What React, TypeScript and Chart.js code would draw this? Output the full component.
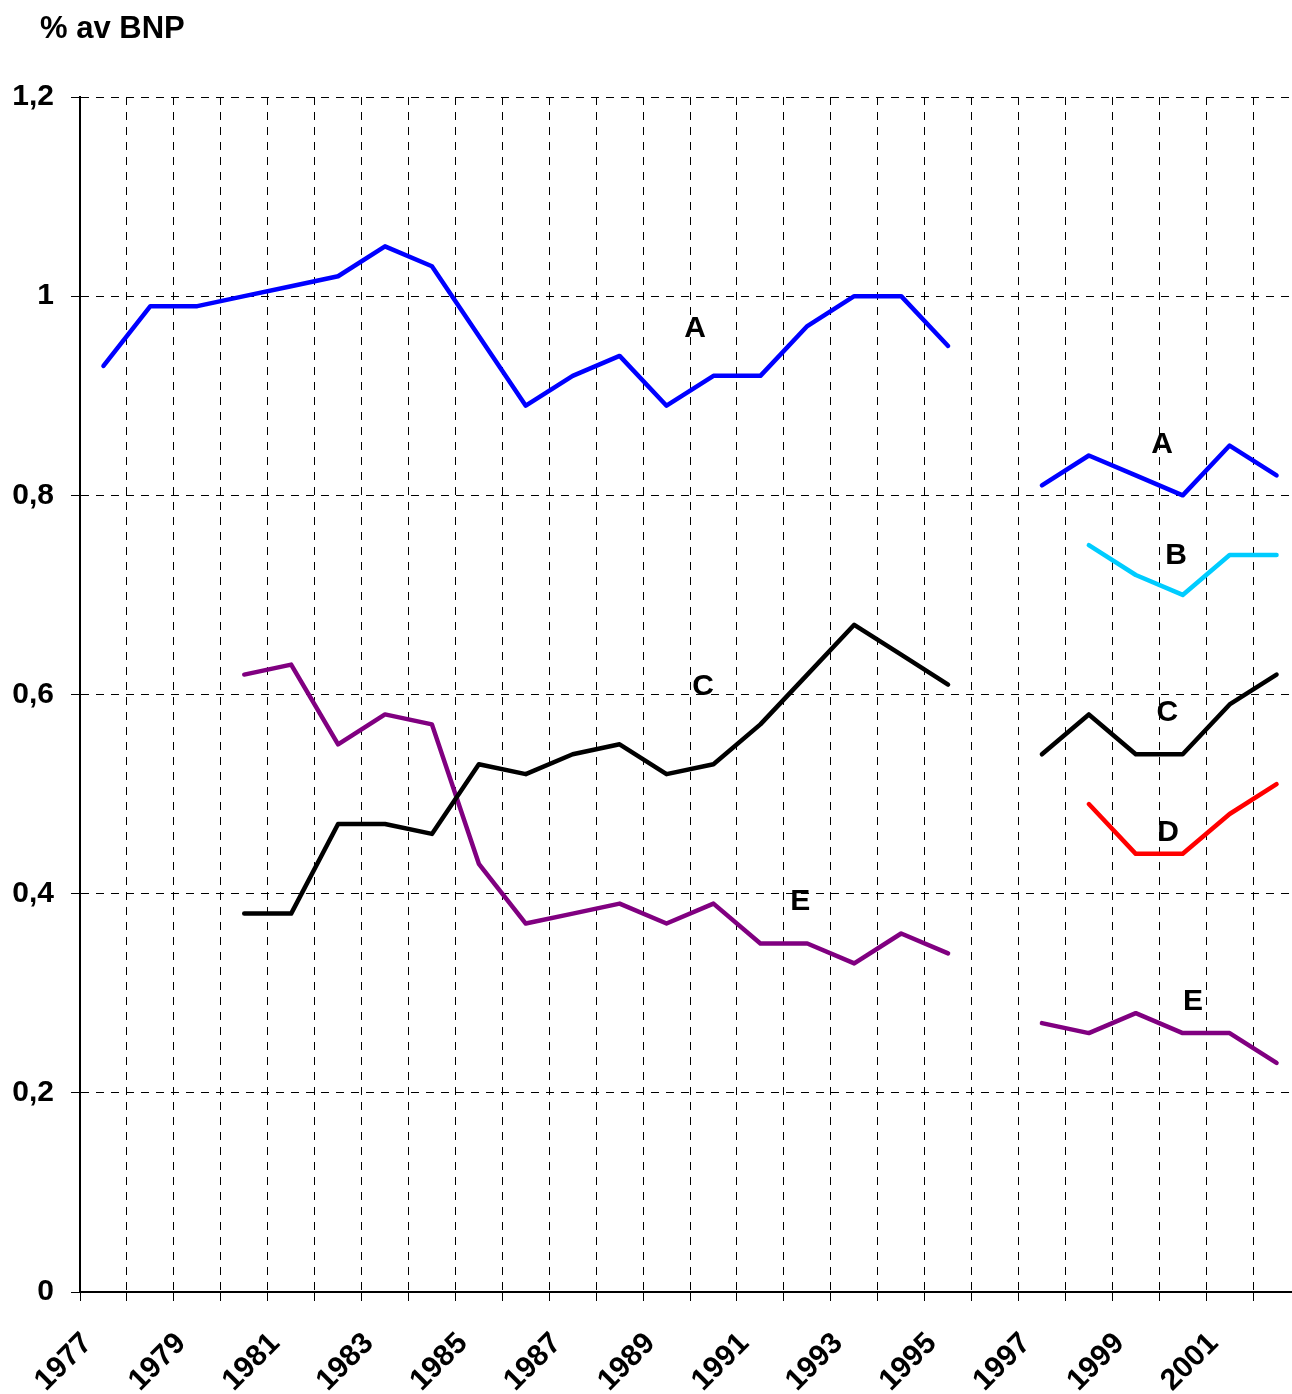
import React, { useEffect, useRef } from 'react';
import { Chart, registerables } from 'chart.js';

Chart.register(...registerables);

// ---------- data ----------
const years = [
  '1977', '1978', '1979', '1980', '1981', '1982', '1983', '1984', '1985', '1986',
  '1987', '1988', '1989', '1990', '1991', '1992', '1993', '1994', '1995', '1996',
  '1997', '1998', '1999', '2000', '2001', '2002',
];

const seriesA = [
  0.93, 0.99, 0.99, 1.0, 1.01, 1.02, 1.05, 1.03, 0.96, 0.89,
  0.92, 0.94, 0.89, 0.92, 0.92, 0.97, 1.0, 1.0, 0.95, null,
  0.81, 0.84, 0.82, 0.8, 0.85, 0.82,
];
const seriesB = [
  null, null, null, null, null, null, null, null, null, null,
  null, null, null, null, null, null, null, null, null, null,
  null, 0.75, 0.72, 0.7, 0.74, 0.74,
];
const seriesC = [
  null, null, null, 0.38, 0.38, 0.47, 0.47, 0.46, 0.53, 0.52,
  0.54, 0.55, 0.52, 0.53, 0.57, 0.62, 0.67, 0.64, 0.61, null,
  0.54, 0.58, 0.54, 0.54, 0.59, 0.62,
];
const seriesD = [
  null, null, null, null, null, null, null, null, null, null,
  null, null, null, null, null, null, null, null, null, null,
  null, 0.49, 0.44, 0.44, 0.48, 0.51,
];
const seriesE = [
  null, null, null, 0.62, 0.63, 0.55, 0.58, 0.57, 0.43, 0.37,
  0.38, 0.39, 0.37, 0.39, 0.35, 0.35, 0.33, 0.36, 0.34, null,
  0.27, 0.26, 0.28, 0.26, 0.26, 0.23,
];

const yTicks = [0, 0.2, 0.4, 0.6, 0.8, 1.0, 1.2];

const yAxisTitle = '% av BNP';

// in-chart series labels (category index, value)
const noteText = ['A', 'C', 'E', 'A', 'B', 'C', 'D', 'E'];
const noteX = [12.61, 12.78, 14.85, 22.56, 22.86, 22.67, 22.69, 23.22];
const noteY = [0.97, 0.61, 0.394, 0.853, 0.742, 0.584, 0.464, 0.294];

// ---------- styling ----------
const FONT = '"Liberation Sans", Arial, Helvetica, sans-serif';

const fmt = (v: number) => String(Number(v.toFixed(1))).replace('.', ',');

const labelsPlugin = {
  id: 'labelsPlugin',
  afterDraw(chart: any) {
    const { ctx, scales } = chart;
    const xs = scales.x;
    const ys = scales.y;
    ctx.save();
    ctx.fillStyle = '#000';
    ctx.font = `bold 31px ${FONT}`;
    ctx.textAlign = 'left';
    ctx.textBaseline = 'alphabetic';
    ctx.fillText(yAxisTitle, 40, 38);

    ctx.font = `bold 30px ${FONT}`;
    ctx.textAlign = 'center';
    for (let i = 0; i < noteText.length; i++) {
      const px = xs.getPixelForValue(noteX[i]);
      const py = ys.getPixelForValue(noteY[i]);
      ctx.fillText(noteText[i], px, py + 30 * 0.358);
    }
    ctx.restore();
  },
};

function ChartView() {
  const ref = useRef<HTMLCanvasElement | null>(null);

  useEffect(() => {
    if (!ref.current) return;
    const mk = (label: string, data: (number | null)[], color: string) => ({
      label,
      data,
      borderColor: color,
      backgroundColor: color,
      borderWidth: 4.5,
      pointRadius: 0,
      pointHoverRadius: 0,
      tension: 0,
      spanGaps: false,
      borderCapStyle: 'round' as const,
      borderJoinStyle: 'round' as const,
      fill: false,
    });

    const chart = new Chart(ref.current, {
      type: 'line',
      data: {
        labels: years,
        datasets: [
          mk('A', seriesA, '#0000FF'),
          mk('B', seriesB, '#00CCFF'),
          mk('C', seriesC, '#000000'),
          mk('D', seriesD, '#FF0000'),
          mk('E', seriesE, '#800080'),
        ],
      },
      options: {
        responsive: false,
        animation: false,
        events: [],
        layout: { padding: { top: 97, right: 20, left: 0, bottom: 0 } },
        plugins: {
          legend: { display: false },
          tooltip: { enabled: false },
          title: { display: false },
        },
        scales: {
          x: {
            type: 'category',
            offset: true,
            grid: {
              offset: true,
              color: '#000',
              lineWidth: 1,
              drawTicks: true,
              tickLength: 9,
              tickColor: '#000',
            },
            border: { display: true, color: '#000', width: 2, dash: [8, 7] },
            ticks: {
              autoSkip: false,
              minRotation: 45,
              maxRotation: 45,
              padding: 25,
              labelOffset: -16,
              color: '#000',
              font: { family: FONT, size: 30, weight: 'bold' },
              callback: (_v: any, i: number) => (i % 2 === 0 ? years[i] : ''),
            },
            afterFit: (s: any) => {
              s.height = 102;
              s.paddingLeft = 0;
              s.paddingRight = 0;
            },
          },
          y: {
            min: 0,
            max: 1.2,
            afterBuildTicks: (s: any) => {
              s.ticks = yTicks.map((v) => ({ value: v }));
            },
            grid: {
              color: '#000',
              lineWidth: 1,
              drawTicks: true,
              tickLength: 9,
              tickColor: '#000',
            },
            border: { display: true, color: '#000', width: 2, dash: [8, 7] },
            ticks: {
              padding: 17,
              color: '#000',
              font: { family: FONT, size: 30, weight: 'bold' },
              callback: (v: any) => fmt(Number(v)),
            },
            afterFit: (s: any) => {
              s.width = 80;
              s.paddingTop = 0;
              s.paddingBottom = 0;
            },
          },
        },
      },
      plugins: [labelsPlugin],
    });
    return () => chart.destroy();
  }, []);

  return <canvas ref={ref} width={1320} height={1394} style={{ display: 'block' }} />;
}

export default function App() {
  return (
    <div
      style={{
        position: 'absolute',
        left: 0,
        top: 0,
        width: 1292,
        height: 1394,
        overflow: 'hidden',
        background: '#fff',
      }}
    >
      <ChartView />
    </div>
  );
}
